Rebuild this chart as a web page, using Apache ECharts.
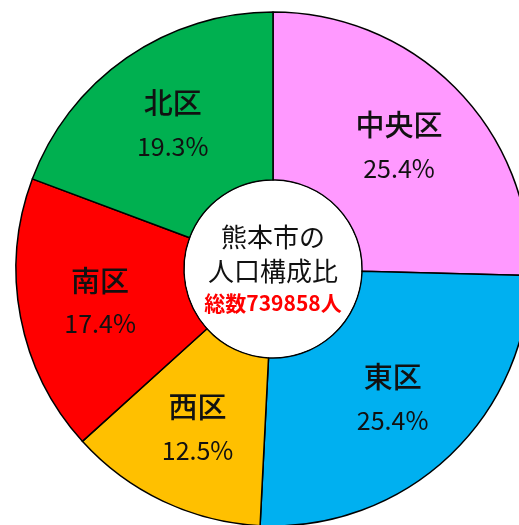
<!DOCTYPE html>
<html>
<head>
<meta charset="utf-8">
<script src="https://cdn.jsdelivr.net/npm/echarts@6/dist/echarts.min.js"></script>
<style>
    html, body { margin: 0; padding: 0; background: #fff; }
    #chart { width: 519px; height: 525px; }
</style>
</head>
<body>
<div id="chart"></div>
<script>
    // 区ごとの人口構成比 (%)
    var districts = ['中央区', '東区', '西区', '南区', '北区'];
    var shares = [25.4, 25.4, 12.5, 17.4, 19.3];
    var colors = ['#FF99FF', '#00B0F0', '#FFC000', '#FF0000', '#00B050'];
    var centerLines = ['熊本市の', '人口構成比'];
    var totalText = '総数739858人';

    var chart = echarts.init(document.getElementById('chart'));

    var pieData = districts.map(function (name, i) {
        return { name: name, value: shares[i], itemStyle: { color: colors[i] } };
    });

    var option = {
        backgroundColor: '#fff',
        animation: false,
        series: [
            {
                type: 'pie',
                center: [273, 269],
                radius: [89, 257],
                startAngle: 90,
                clockwise: true,
                silent: true,
                itemStyle: {
                    borderColor: '#000',
                    borderWidth: 1.5
                },
                label: {
                    show: true,
                    position: 'inside',
                    formatter: function (p) {
                        return '{n|' + p.name + '}\n{p|' + p.value.toFixed(1) + '%}';
                    },
                    rich: {
                        n: {
                            fontFamily: 'Noto Sans CJK JP',
                            fontSize: 29,
                            fontWeight: 500,
                            color: '#111',
                            lineHeight: 44
                        },
                        p: {
                            fontFamily: 'Noto Sans CJK JP',
                            fontSize: 25,
                            color: '#111',
                            lineHeight: 42
                        }
                    }
                },
                labelLine: { show: false },
                data: pieData
            },
            {
                // 中心の円とタイトル
                type: 'pie',
                center: [273, 269],
                radius: [0, 88],
                silent: true,
                itemStyle: { color: '#fff' },
                label: {
                    show: true,
                    position: 'center',
                    formatter: '{t|' + centerLines[0] + '}\n{t|' + centerLines[1] + '}\n{r|' + totalText + '}',
                    rich: {
                        t: {
                            fontFamily: 'Noto Sans CJK JP',
                            fontSize: 26,
                            color: '#111',
                            lineHeight: 34
                        },
                        r: {
                            fontFamily: 'Noto Sans CJK JP',
                            fontSize: 21,
                            fontWeight: 'bold',
                            color: '#FF0000',
                            lineHeight: 30
                        }
                    }
                },
                labelLine: { show: false },
                data: [{ name: 'center', value: 1 }]
            }
        ]
    };

    chart.setOption(option);
</script>
</body>
</html>
